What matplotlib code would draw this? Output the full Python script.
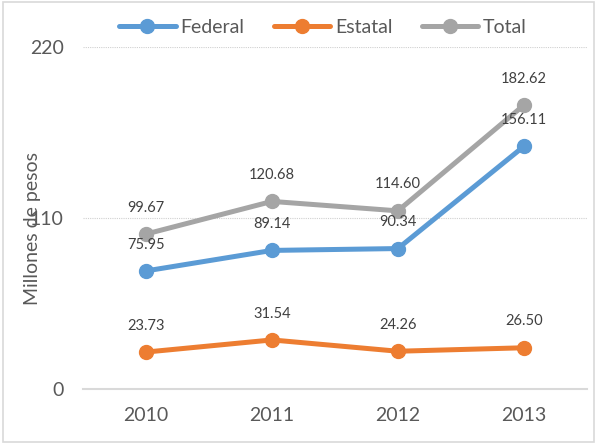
import matplotlib.pyplot as plt
from matplotlib.patches import Rectangle

years = ['2010', '2011', '2012', '2013']
federal = [75.95, 89.14, 90.34, 156.11]
estatal = [23.73, 31.54, 24.26, 26.50]
total = [99.67, 120.68, 114.60, 182.62]

series = [('Federal', federal, '#5B9BD5'),
          ('Estatal', estatal, '#ED7D31'),
          ('Total', total, '#A5A5A5')]

plt.rcParams['font.family'] = ['Lato', 'DejaVu Sans']

fig = plt.figure(figsize=(5.97, 4.44), dpi=100)
ax = fig.add_axes([0.139, 0.124, 0.844, 0.770])

x = range(len(years))
for name, vals, color in series:
    ax.plot(x, vals, color=color, lw=3.6, marker='o', ms=10,
            solid_capstyle='round', label=name, zorder=3)
    for xi, v in zip(x, vals):
        ax.annotate(f'{v:.2f}', (xi, v), xytext=(0, 19), textcoords='offset points',
                    ha='center', va='center', fontsize=10.5, color='#404040', zorder=4)

ax.set_xlim(-0.5, 3.5)
ax.set_ylim(0, 220)
ax.set_xticks(list(x))
ax.set_xticklabels(years)
ax.set_yticks([0, 110, 220])

for yv in [110, 220]:
    ax.axhline(yv, color='#D0D0D0', lw=0.8, ls=(0, (1, 1)), zorder=1)

for side in ['top', 'right', 'left']:
    ax.spines[side].set_visible(False)
ax.spines['bottom'].set_color('#D9D9D9')
ax.spines['bottom'].set_linewidth(1.5)
ax.tick_params(length=0, labelsize=14, colors='#595959')
ax.tick_params(axis='x', pad=13)
ax.tick_params(axis='y', pad=14)

ax.set_ylabel('Millones de pesos', fontsize=14, color='#595959')
ax.yaxis.set_label_coords(-0.083, 0.468)

fig.legend(loc='center', bbox_to_anchor=(0.541, 0.939), ncol=3, frameon=False,
           fontsize=14, handlelength=2.9, handletextpad=0.25, columnspacing=1.5,
           labelcolor='#595959')

fig.patches.append(Rectangle((0.005, 0.005), 0.99, 0.99, transform=fig.transFigure,
                             fill=False, edgecolor='#D9D9D9', lw=1.2))

fig.savefig('out.png', dpi=100)
